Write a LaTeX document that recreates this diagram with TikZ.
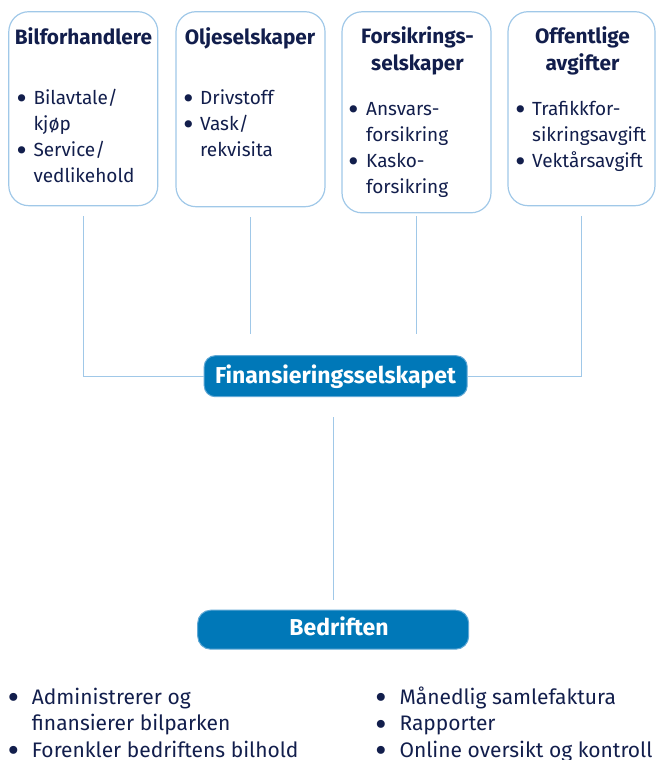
\documentclass[tikz,border=0pt]{standalone}
\usepackage{graphicx}
\usepackage{fontspec}
\setmainfont{Fira Sans}
\newfontfamily\dotfont{DejaVu Sans}

\definecolor{navy}{RGB}{18,30,76}
\definecolor{fjord}{RGB}{0,120,184}
\definecolor{frame}{RGB}{160,200,232}

% stacked lines, first baseline on the node's base
\newcommand{\rows}[2][l]{\begin{tabular}[t]{@{}#1@{}}#2\end{tabular}}
% bullet hung in front of the text
\newcommand{\blob}{\raisebox{-0.17em}{\scalebox{1.3}{\dotfont\textbullet}}}
\newcommand{\itm}[1][12pt]{\llap{\blob\hspace{\dimexpr#1-7.5pt\relax}}}

\tikzset{
  partner/.style={draw=frame, line width=1.2pt, rounded corners=20pt, minimum width=149pt},
  hub/.style={fill=fjord, draw=frame!60!fjord, line width=1pt, inner sep=0pt},
  head/.style={anchor=base, inner sep=0pt, text=navy, font=\fontsize{20.8}{27.7}\selectfont\bfseries},
  items/.style={anchor=base west, inner sep=0pt, text=navy, font=\fontsize{19}{26.3}\selectfont},
  hubtext/.style={anchor=base, inner sep=0pt, text=white, font=\fontsize{23}{25}\selectfont\bfseries},
  link/.style={draw=frame, line width=1.3pt},
}

\begin{document}
\begin{tikzpicture}[x=1pt,y=1pt,yscale=-1]
\useasboundingbox (0,0) rectangle (661,760);

%Shape: partner boxes
\node (bilf) [partner, minimum height=194pt] at (83.3,108.7) {};
\node (olje) [partner, minimum height=195pt] at (250.5,109.2) {};
\node (fors) [partner, minimum height=201pt] at (416.5,112.3) {};
\node (offa) [partner, minimum height=194pt, minimum width=147pt] at (581.5,108.7) {};

%Shape: hub boxes
\node (finans) [hub, rounded corners=11pt, minimum width=263pt, minimum height=41pt] at (335.7,376.2) {};
\node (bedrift) [hub, rounded corners=13pt, minimum width=271pt, minimum height=39pt] at (333.2,629.7) {};

%Straight Lines
\draw [link, shorten <=10pt] (bilf.south) |- (finans.west);
\coordinate (oljeEnd) at (250.5,334);
\draw [link, shorten <=10pt] (olje.south) -- (oljeEnd);
\coordinate (forsEnd) at (416.5,334);
\draw [link, shorten <=3pt] (fors.south) -- (forsEnd);
\draw [link, shorten <=10pt] (offa.south) |- (finans.east);
\draw [link, shorten >=10pt] (bedrift.north |- finans.south) ++(0,20) -- (bedrift.north);

% Text Node
\node (bilfHead) [head] at (83.5,44.3) {Bilforhandlere};
% Text Node
\node (oljeHead) [head] at (250,44.3) {Oljeselskaper};
% Text Node
\node (forsHead) [head] at (417.5,43.3) {\rows[c]{Forsikrings-\\selskaper}};
% Text Node
\node (offaHead) [head] at (582.5,43.3) {\rows[c]{Offentlige\\avgifter}};

% Text Node
\node (bilfList) [items] at (33.3,104) {\rows{\itm Bilavtale/\\kjøp\\\itm Service/\\vedlikehold}};
% Text Node
\node (oljeList) [items] at (200,104) {\rows{\itm Drivstoff\\\itm Vask/\\rekvisita}};
% Text Node
\node (forsList) [items] at (366,115) {\rows{\itm[13pt]Ansvars-\\forsikring\\\itm[13pt]Kasko-\\forsikring}};
% Text Node
\node (offaList) [items] at (532,115) {\rows{\itm Trafikkfor-\\sikringsavgift\\\itm Vektårsavgift}};

% Text Node
\node (finansText) [hubtext] at (335.5,383.3) {Finansieringsselskapet};
% Text Node
\node (bedriftText) [hubtext] at (339,635.7) {Bedriften};

% Text Node
\node (goodsLeft) [items, font=\fontsize{21}{26.5}\selectfont] at (31.7,704) {\rows{\itm[18pt]Administrerer og\\finansierer bilparken\\\itm[18pt]Forenkler bedriftens bilhold}};
% Text Node
\node (goodsRight) [items, font=\fontsize{21}{26.5}\selectfont] at (399.3,704) {\rows{\itm[18pt]Månedlig samlefaktura\\\itm[18pt]Rapporter\\\itm[18pt]Online oversikt og kontroll}};

\end{tikzpicture}
\end{document}
